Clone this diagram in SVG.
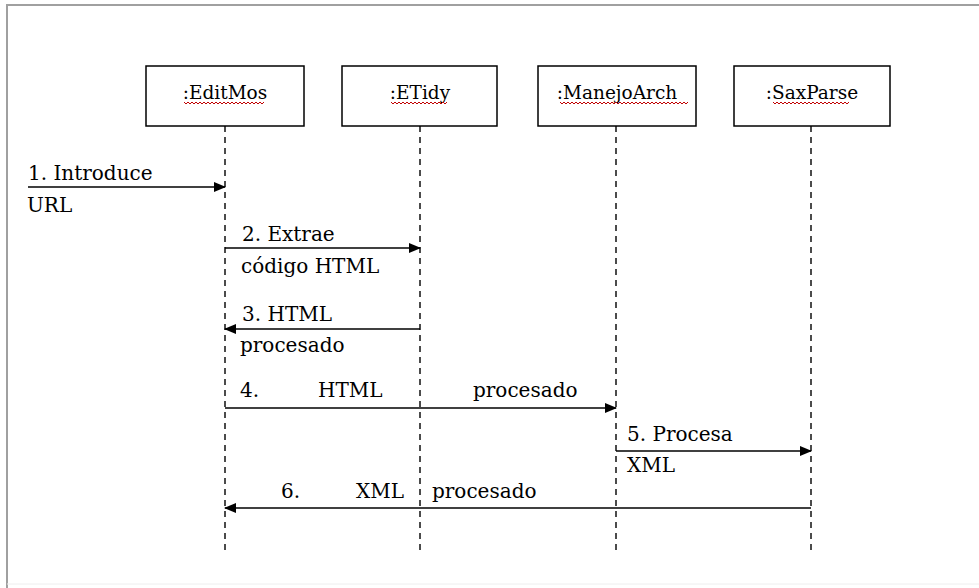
<svg xmlns="http://www.w3.org/2000/svg" width="979" height="588" viewBox="0 0 979 588">
<style>
.frame{stroke:#a0a0a0;stroke-width:2;fill:none}
.box{fill:#fff;stroke:#000;stroke-width:1.5}
.lbl{font-family:"DejaVu Serif",serif;font-size:18.5px;fill:#000;text-anchor:middle}
.msg{font-family:"DejaVu Serif",serif;font-size:20px;fill:#000}
.life{stroke:#111;stroke-width:1.5;stroke-dasharray:6 5;fill:none}
.arr{stroke:#000;stroke-width:1.6;fill:none;marker-end:url(#ah)}
.sq{stroke:#c00000;stroke-width:1;fill:none}
</style>
<defs>
<marker id="ah" markerWidth="12" markerHeight="10" refX="11" refY="5" orient="auto" markerUnits="userSpaceOnUse">
<path d="M0,0 L12,5 L0,10 Z" fill="#000"/>
</marker>
</defs>
<rect width="979" height="588" fill="#fff"/>
<path class="frame" d="M7,588 L7,5 L979,5"/>
<line x1="7" y1="584" x2="979" y2="584" stroke="#eeeeee" stroke-width="1"/>
<g id="lifelines">
<line class="life" x1="225" y1="126" x2="225" y2="552"/>
<line class="life" x1="420" y1="126" x2="420" y2="552"/>
<line class="life" x1="616" y1="126" x2="616" y2="552"/>
<line class="life" x1="811" y1="126" x2="811" y2="552"/>
</g>
<g id="node-editmos">
<rect class="box" x="146" y="66" width="158" height="60"/>
<text class="lbl" x="225" y="99">:EditMos</text>
<path class="sq" d="M184,102 l2,2 l2,-2 l2,2 l2,-2 l2,2 l2,-2 l2,2 l2,-2 l2,2 l2,-2 l2,2 l2,-2 l2,2 l2,-2 l2,2 l2,-2 l2,2 l2,-2 l2,2 l2,-2 l2,2 l2,-2 l2,2 l2,-2 l2,2 l2,-2 l2,2 l2,-2 l2,2 l2,-2 l2,2 l2,-2 l2,2 l2,-2 l2,2 l2,-2 l2,2 l2,-2 l2,2 l2,-2"/>
</g>
<g id="node-etidy">
<rect class="box" x="342" y="66" width="155" height="60"/>
<text class="lbl" x="420" y="99">:ETidy</text>
<path class="sq" d="M391,102 l2,2 l2,-2 l2,2 l2,-2 l2,2 l2,-2 l2,2 l2,-2 l2,2 l2,-2 l2,2 l2,-2 l2,2 l2,-2 l2,2 l2,-2 l2,2 l2,-2 l2,2 l2,-2 l2,2 l2,-2 l2,2 l2,-2 l2,2 l2,-2 l2,2 l2,-2"/>
</g>
<g id="node-manejoarch">
<rect class="box" x="538" y="66" width="158" height="60"/>
<text class="lbl" x="617" y="99">:ManejoArch</text>
<path class="sq" d="M560,102 l2,2 l2,-2 l2,2 l2,-2 l2,2 l2,-2 l2,2 l2,-2 l2,2 l2,-2 l2,2 l2,-2 l2,2 l2,-2 l2,2 l2,-2 l2,2 l2,-2 l2,2 l2,-2 l2,2 l2,-2 l2,2 l2,-2 l2,2 l2,-2 l2,2 l2,-2 l2,2 l2,-2 l2,2 l2,-2 l2,2 l2,-2 l2,2 l2,-2 l2,2 l2,-2 l2,2 l2,-2 l2,2 l2,-2 l2,2 l2,-2 l2,2 l2,-2 l2,2 l2,-2 l2,2 l2,-2 l2,2 l2,-2 l2,2 l2,-2 l2,2 l2,-2 l2,2 l2,-2 l2,2 l2,-2 l2,2 l2,-2 l2,2 l2,-2"/>
</g>
<g id="node-saxparse">
<rect class="box" x="734" y="66" width="156" height="60"/>
<text class="lbl" x="812" y="99">:SaxParse</text>
<path class="sq" d="M773,102 l2,2 l2,-2 l2,2 l2,-2 l2,2 l2,-2 l2,2 l2,-2 l2,2 l2,-2 l2,2 l2,-2 l2,2 l2,-2 l2,2 l2,-2 l2,2 l2,-2 l2,2 l2,-2 l2,2 l2,-2 l2,2 l2,-2 l2,2 l2,-2 l2,2 l2,-2 l2,2 l2,-2 l2,2 l2,-2 l2,2 l2,-2 l2,2 l2,-2 l2,2 l2,-2"/>
</g>
<g id="connectors">
<line class="arr" x1="28" y1="187" x2="225" y2="187"/>
<line class="arr" x1="225" y1="248" x2="420" y2="248"/>
<line class="arr" x1="420" y1="329" x2="225" y2="329"/>
<line class="arr" x1="225" y1="408" x2="616" y2="408"/>
<line class="arr" x1="616" y1="451" x2="811" y2="451"/>
<line class="arr" x1="811" y1="508" x2="225" y2="508"/>
</g>
<g id="labels">
<text class="msg" x="28" y="180">1. Introduce</text>
<text class="msg" x="27" y="212">URL</text>
<text class="msg" x="242" y="241">2. Extrae</text>
<text class="msg" x="241" y="273">código HTML</text>
<text class="msg" x="242" y="321">3. HTML</text>
<text class="msg" x="240" y="352">procesado</text>
<text class="msg" y="397"><tspan x="240">4.</tspan><tspan x="318">HTML</tspan><tspan x="473">procesado</tspan></text>
<text class="msg" x="627" y="441">5. Procesa</text>
<text class="msg" x="627" y="472">XML</text>
<text class="msg" y="498"><tspan x="281">6.</tspan><tspan x="356">XML</tspan><tspan x="432">procesado</tspan></text>
</g>
</svg>
